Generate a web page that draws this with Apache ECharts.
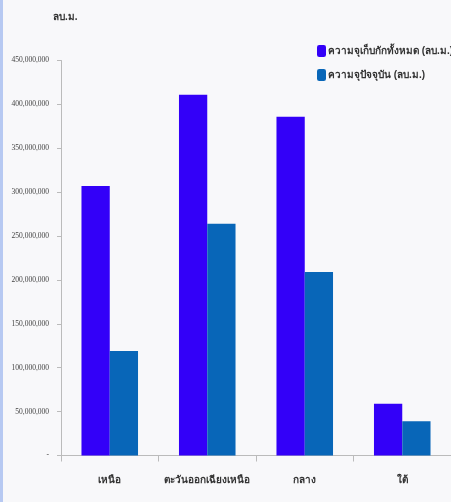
<!DOCTYPE html>
<html><head><meta charset="utf-8">
<script src="https://cdn.jsdelivr.net/npm/echarts@6/dist/echarts.min.js"></script>
<style>
html,body{margin:0;padding:0;background:#f8f8fa;}
#c{width:451px;height:502px;}
#edge{position:absolute;left:0;top:0;width:3px;height:502px;background:#b7c9f2;}
</style></head>
<body><div id="c"></div><div id="edge"></div>
<script>
const categories = ['เหนือ', 'ตะวันออกเฉียงเหนือ', 'กลาง', 'ใต้'];
const totalCapacity = [307000000, 411000000, 386000000, 59000000];
const currentCapacity = [119000000, 264000000, 209000000, 39000000];
const seriesNames = ['ความจุเก็บกักทั้งหมด (ลบ.ม.)', 'ความจุปัจจุบัน (ลบ.ม.)'];
const unitLabel = 'ลบ.ม.';

const chart = echarts.init(document.getElementById('c'));
chart.setOption({
  backgroundColor: '#f8f8fa',
  animation: false,
  title: { text: unitLabel, left: 48, top: 7,
    textStyle: { fontSize: 10, fontWeight: 'bold', color: '#333' } },
  legend: {
    orient: 'vertical', left: 312, top: 40, itemWidth: 9, itemHeight: 12, itemGap: 12,
    textStyle: { fontSize: 10, fontWeight: 'bold', color: '#333', padding: [0,0,0,-3] },
    data: seriesNames
  },
  grid: { left: 61, right: -6, top: 60.5, bottom: 46.5 },
  xAxis: {
    type: 'category', data: categories,
    axisLine: { lineStyle: { color: '#bbbbbb' } },
    axisTick: { show: true, interval: 0, length: 6, lineStyle: { color: '#bbbbbb' } },
    axisLabel: { interval: 0, margin: 20, fontSize: 10, fontWeight: 'bold', color: '#333' }
  },
  yAxis: {
    type: 'value', min: 0, max: 450000000, interval: 50000000,
    axisLine: { show: true, lineStyle: { color: '#bbbbbb' } },
    axisTick: { show: true, length: 4, lineStyle: { color: '#bbbbbb' } },
    splitLine: { show: false },
    axisLabel: { fontSize: 7.5, color: '#444', fontFamily: 'Liberation Serif', margin: 12,
      formatter: v => v === 0 ? '-' : v.toLocaleString('en-US') }
  },
  series: [
    { name: seriesNames[0], type: 'bar', data: totalCapacity, barGap: '0%', barCategoryGap: '42%',
      itemStyle: { color: '#3300f8' } },
    { name: seriesNames[1], type: 'bar', data: currentCapacity,
      itemStyle: { color: '#0866b8' } }
  ]
});
</script></body></html>
